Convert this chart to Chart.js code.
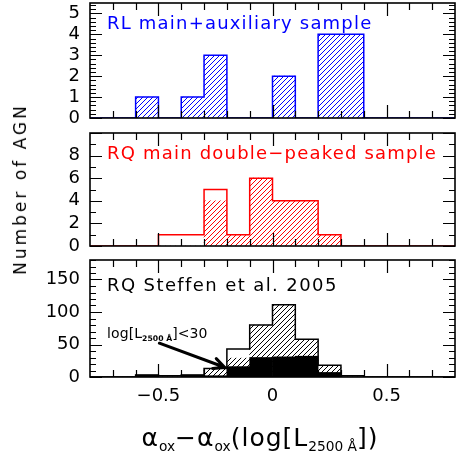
<!DOCTYPE html>
<html>
<head>
<meta charset="utf-8">
<script src="https://cdn.jsdelivr.net/npm/chart.js@4.4.1/dist/chart.umd.min.js"></script>
<style>
  html, body { margin: 0; padding: 0; background: #fff; }
  #wrap { position: relative; width: 456px; height: 456px; overflow: hidden; font-family: 'DejaVu Sans', sans-serif; color: #000; }
  canvas { position: absolute; left: 0; }
  .lbl { position: absolute; white-space: nowrap; line-height: 1; font-size: 18px; letter-spacing: 1.2px; }
  .sub { font-size: 55%; position: relative; top: 0.35em; letter-spacing: 0; }
  #ytitle { position: absolute; left: 20px; top: 189px; transform: translate(-50%, -50%) rotate(-90deg); font-size: 17px; letter-spacing: 3px; white-space: nowrap; }
  #xtitle { position: absolute; left: 260px; top: 437px; transform: translate(-50%, -50%); font-size: 25px; letter-spacing: 1px; white-space: nowrap; }
</style>
</head>
<body>
<div id="wrap">
  <canvas id="rlChart" width="456" height="126" style="top:0px"></canvas>
  <canvas id="rqChart" width="456" height="128" style="top:126px"></canvas>
  <canvas id="steffenChart" width="456" height="202" style="top:254px"></canvas>
  <div class="lbl" style="left:107px; top:14px; color:#0000ff;">RL main+auxiliary sample</div>
  <div class="lbl" style="left:107px; top:144px; color:#ff0000;">RQ main double−peaked sample</div>
  <div class="lbl" style="left:107px; top:276px; color:#000; letter-spacing:1.4px;">RQ Steffen et al. 2005</div>
  <div class="lbl" style="left:107px; top:326px; font-size:14px; letter-spacing:0.1px;">log[L<span class="sub" style="font-weight:bold">2500 Å</span>]&lt;30</div>
  <div id="ytitle">Number of AGN</div>
  <div id="xtitle">α<span class="sub">ox</span>−α<span class="sub">ox</span>(log[L<span class="sub">2500 Å</span>])</div>
</div>
<script>
// bin edges of the histograms (alpha_ox residual)
const binEdges = [-0.8, -0.7, -0.6, -0.5, -0.4, -0.3, -0.2, -0.1, 0, 0.1, 0.2, 0.3, 0.4, 0.5, 0.6, 0.7, 0.8];

// RL main+auxiliary sample
const rlCounts = [0, 0, 1, 0, 1, 3, 0, 0, 2, 0, 4, 4, 0, 0, 0, 0];

// RQ main double-peaked sample: all, and hatched subset
const rqAll     = [0, 0, 0, 1, 1, 5, 1, 6, 4, 4, 1, 0, 0, 0, 0, 0];
const rqHatched = [0, 0, 0, 0, 0, 4, 1, 6, 4, 4, 1, 0, 0, 0, 0, 0];

// RQ Steffen et al. 2005: all, hatched, and log[L2500] < 30 (black)
const steffenAll     = [0, 0, 3, 2, 3, 13, 43, 80, 111, 58, 18, 2, 0, 0, 0, 0];
const steffenHatched = [0, 0, 0, 0, 0, 13, 29, 80, 111, 58, 18, 0, 0, 0, 0, 0];
const steffenLowL    = [0, 0, 3, 0, 3, 2, 16, 30, 31, 32, 7, 0, 0, 0, 0, 0];

function makeHatch(color) {
  const c = document.createElement('canvas');
  c.width = 5; c.height = 5;
  const g = c.getContext('2d');
  g.strokeStyle = color;
  g.lineWidth = 1;
  g.beginPath();
  g.moveTo(-1, 6); g.lineTo(6, -1);
  g.moveTo(-1, 1); g.lineTo(1, -1);
  g.moveTo(4, 6); g.lineTo(6, 4);
  g.stroke();
  return g.createPattern(c, 'repeat');
}

function barData(counts) {
  return counts.map((v, i) => ({ x: (binEdges[i] + binEdges[i + 1]) / 2, y: v }));
}

function stepData(counts) {
  const pts = counts.map((v, i) => ({ x: binEdges[i], y: v }));
  pts.push({ x: binEdges[binEdges.length - 1], y: 0 });
  return pts;
}

function outline(counts, color) {
  return { type: 'line', data: stepData(counts), borderColor: color, borderWidth: 1.5,
           stepped: true, pointRadius: 0, fill: false, tension: 0 };
}

function filled(counts, fill) {
  return { type: 'bar', data: barData(counts), backgroundColor: fill, borderWidth: 0,
           grouped: false, barPercentage: 1, categoryPercentage: 1 };
}

// frame + inward tick marks, like the original plot
const framePlugin = {
  id: 'frame',
  afterDraw(chart, args, opts) {
    const { ctx, chartArea: a } = chart;
    const xs = chart.scales.x, ys = chart.scales.y;
    ctx.save();
    ctx.strokeStyle = '#000';
    ctx.lineWidth = 1.2;
    ctx.beginPath();
    for (let k = -7; k <= 7; k++) {
      const px = Math.round(xs.getPixelForValue(k / 10)) + 0.5;
      const len = (k % 5 === 0) ? 13 : 7;
      ctx.moveTo(px, a.bottom); ctx.lineTo(px, a.bottom - len);
      ctx.moveTo(px, a.top); ctx.lineTo(px, a.top + len);
    }
    for (let v = 0; v <= ys.max + 1e-9; v += opts.minor) {
      const py = Math.round(ys.getPixelForValue(v)) + 0.5;
      const isMajor = Math.abs(v / opts.major - Math.round(v / opts.major)) < 1e-6;
      const len = isMajor ? 12 : 6;
      ctx.moveTo(a.left, py); ctx.lineTo(a.left + len, py);
      ctx.moveTo(a.right, py); ctx.lineTo(a.right - len, py);
    }
    ctx.stroke();
    ctx.lineWidth = 1.6;
    ctx.strokeRect(a.left, a.top, a.right - a.left, a.bottom - a.top);

    if (opts.arrow) {
      const [x0, y0, x1, y1] = opts.arrow;
      const sx = xs.getPixelForValue(x0), sy = ys.getPixelForValue(y0);
      const ex = xs.getPixelForValue(x1), ey = ys.getPixelForValue(y1);
      const ang = Math.atan2(ey - sy, ex - sx);
      ctx.lineWidth = 3;
      ctx.lineCap = 'round';
      ctx.beginPath();
      ctx.moveTo(sx, sy); ctx.lineTo(ex, ey);
      ctx.moveTo(ex, ey); ctx.lineTo(ex - 12 * Math.cos(ang - 0.45), ey - 12 * Math.sin(ang - 0.45));
      ctx.moveTo(ex, ey); ctx.lineTo(ex - 12 * Math.cos(ang + 0.45), ey - 12 * Math.sin(ang + 0.45));
      ctx.stroke();
    }
    ctx.restore();
  }
};

const tickFont = { family: "'DejaVu Sans', sans-serif", size: 18 };

function makeOptions(yMax, yStep, minor, padding, showX, arrow) {
  return {
    responsive: false,
    animation: false,
    events: [],
    layout: { padding: padding },
    plugins: { legend: { display: false }, tooltip: { enabled: false }, frame: { major: yStep, minor: minor, arrow: arrow } },
    scales: {
      x: {
        type: 'linear', min: -0.8, max: 0.8, offset: false, display: showX,
        grid: { display: false, drawTicks: false },
        border: { display: false },
        ticks: { stepSize: 0.5, includeBounds: false, padding: 9, color: '#000', font: tickFont,
                 callback: v => String(Math.round(v * 10) / 10).replace('-', '\u2212') },
        afterFit: s => { s.height = showX ? 79 : 0; s.paddingLeft = 0; s.paddingRight = 0; }
      },
      y: {
        min: 0, max: yMax,
        grid: { display: false, drawTicks: false },
        border: { display: false },
        ticks: { stepSize: yStep, includeBounds: false, autoSkip: false, padding: 10, color: '#000', font: tickFont,
                 callback: v => (v >= yMax ? '' : String(v)) },
        afterFit: s => { s.width = 90; s.paddingTop = 0; s.paddingBottom = 0; }
      }
    }
  };
}

const blueHatch = makeHatch('#0000ff');
const redHatch = makeHatch('#ff0000');
const blackHatch = makeHatch('#000000');

new Chart(document.getElementById('rlChart'), {
  type: 'bar',
  data: { datasets: [outline(rlCounts, '#0000ff'), filled(rlCounts, blueHatch)] },
  options: makeOptions(5.5, 1, 0.2, { top: 3, bottom: 8, left: 0, right: 1 }, false, null),
  plugins: [framePlugin]
});

new Chart(document.getElementById('rqChart'), {
  type: 'bar',
  data: { datasets: [outline(rqAll, '#ff0000'), filled(rqHatched, redHatch)] },
  options: makeOptions(10, 2, 1, { top: 7, bottom: 8, left: 0, right: 1 }, false, null),
  plugins: [framePlugin]
});

new Chart(document.getElementById('steffenChart'), {
  type: 'bar',
  data: { datasets: [outline(steffenAll, '#000000'), filled(steffenLowL, '#000000'), filled(steffenHatched, blackHatch)] },
  options: makeOptions(180, 50, 10, { top: 6, bottom: 0, left: 0, right: 1 }, true, [-0.496, 52, -0.21, 15]),
  plugins: [framePlugin]
});
</script>
</body>
</html>
